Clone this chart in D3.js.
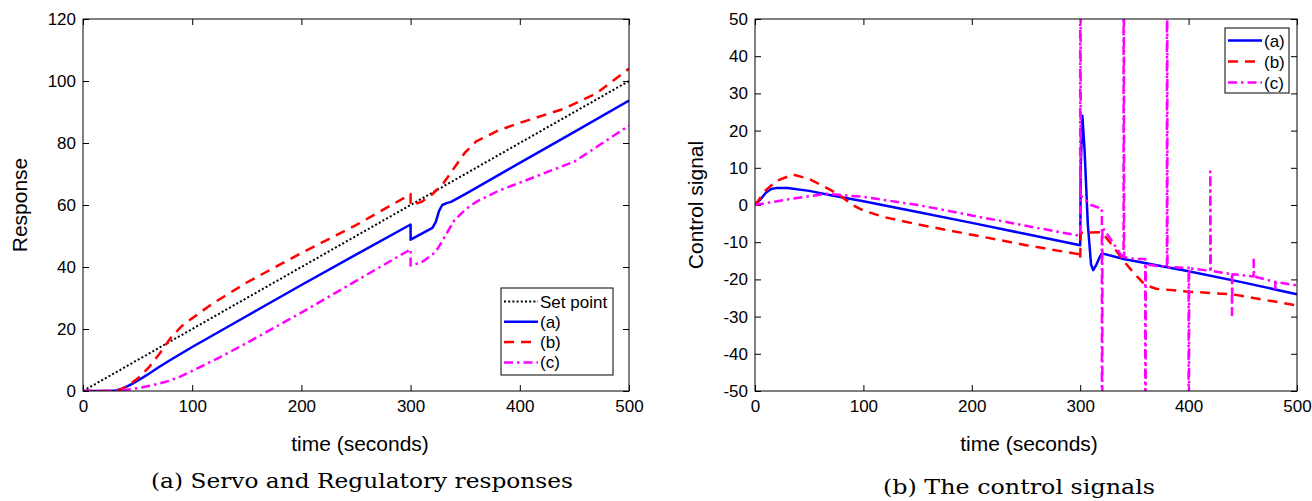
<!DOCTYPE html>
<html>
<head>
<meta charset="utf-8">
<script src="https://cdn.jsdelivr.net/npm/d3@7"></script>
<style>
  body { margin: 0; background: #fff; }
  svg { display: block; }
  .tick text { font-family: "Liberation Sans", Arial, sans-serif; font-size: 17px; fill: #000; }
  .tick line { stroke: #000; stroke-width: 1; }
  .lbl { font-family: "Liberation Sans", Arial, sans-serif; font-size: 21px; fill: #000; }
  .cap { font-family: "DejaVu Serif", "Liberation Serif", serif; font-size: 21px; fill: #000; }
  .leg text { font-family: "Liberation Sans", Arial, sans-serif; font-size: 17px; fill: #000; }
</style>
</head>
<body>
<svg width="1312" height="501"></svg>
<script>
// ---- data: [time, value] ----
const timeTicks = [0, 100, 200, 300, 400, 500];
const responseTicks = [0, 20, 40, 60, 80, 100, 120];
const controlTicks = [50, 40, 30, 20, 10, 0, -10, -20, -30, -40, -50];

const setPoint = [[0, 0], [500, 100]];

const respA = [[0, 0], [25, 0], [30, 0.2], [35, 0.7], [40, 1.4], [45, 2.3], [50, 3.3], [55, 4.4],
  [60, 5.5], [70, 7.8], [80, 10], [100, 14.2], [150, 24.2], [200, 34.2], [250, 44], [300, 53.7],
  [300, 48.8], [320, 52.6], [323, 54.5], [326, 58], [329, 60], [333, 60.6], [337, 61], [350, 63.5],
  [400, 73.6], [450, 83.6], [500, 93.7]];

const respB = [[0, 0], [30, 0], [35, 0.5], [40, 1.5], [50, 4], [60, 7.5], [70, 12], [80, 17],
  [90, 20.8], [100, 23.5], [120, 28.5], [150, 35], [200, 44.5], [250, 53.5], [300, 63.5],
  [300, 60], [310, 61], [320, 63.5], [330, 67], [340, 72], [350, 77], [360, 80.5], [380, 84],
  [400, 86.5], [440, 91], [470, 96], [500, 104]];

const respC = [[0, 0], [20, 0], [30, 0.1], [40, 0.4], [50, 0.9], [60, 1.6], [70, 2.4], [80, 3.4],
  [90, 4.8], [100, 6.5], [125, 10.8], [150, 15.5], [200, 25.3], [250, 35.5], [300, 45.7],
  [300, 40.5], [310, 41.5], [320, 44], [325, 46], [330, 49], [340, 55], [350, 58.5], [360, 61],
  [380, 64.5], [400, 67.2], [450, 74], [500, 85.6]];

const ctrlA = [[0, 0], [5, 1.5], [10, 3.3], [15, 4.3], [20, 4.6], [30, 4.6], [50, 3.8], [70, 2.6],
  [100, 1], [150, -1.9], [200, -4.8], [250, -7.8], [300, -10.8], [300.5, 10], [302, 24], [304, 15],
  [307, -5], [310, -16], [312, -17.5], [315, -16], [318, -14], [320, -13], [340, -14.5],
  [400, -17.8], [450, -20.8], [500, -24]];

const ctrlB = [[0, 0], [10, 4], [20, 6.5], [35, 8.2], [50, 7], [60, 5.5], [70, 4], [80, 2.2],
  [90, 0], [100, -1.5], [120, -3.3], [150, -5.2], [200, -8], [250, -10.8], [300, -13.3],
  [300, -14.5], [300.5, -7.5], [320, -7.3], [330, -11], [340, -15], [350, -18.5], [360, -21.5],
  [370, -22.5], [400, -23.3], [440, -24], [460, -25], [500, -27]];

const ctrlC = [[0, 0], [30, 1.5], [65, 3], [100, 2.2], [150, 0], [200, -2.8], [250, -5.6],
  [300, -8.3], [300, 200], [300.5, 2.5], [310, 0], [320, -1], [320, -200], [320.5, -6],
  [330, -10], [340, -14.5], [340, 200], [340.5, -14], [350, -14.5], [360, -14.5], [360, -200],
  [360.5, -16], [380, -16.7], [380, 200], [380.5, -16.7], [400, -16.9], [400, -200], [400.5, -17],
  [420, -17.7], [420, 9], [420.5, -17.7], [440, -18.6], [440, -29.6], [440.5, -18.6],
  [460, -19.2], [460, -14.7], [460.5, -19.2], [480, -20.7], [480, -22.5], [480.5, -20.7],
  [500, -21.6]];

const leftSeries = [
  { name: "Set point", values: setPoint, color: "#000", dash: "2,2.2", width: 2 },
  { name: "(a)", values: respA, color: "#0000ff", dash: null, width: 2.5 },
  { name: "(b)", values: respB, color: "#ff0000", dash: "10,7", width: 2.5 },
  { name: "(c)", values: respC, color: "#ff00ff", dash: "9,4,2.5,4", width: 2.5 }
];
const rightSeries = [
  { name: "(a)", values: ctrlA, color: "#0000ff", dash: null, width: 2.5 },
  { name: "(b)", values: ctrlB, color: "#ff0000", dash: "10,7", width: 2.5 },
  { name: "(c)", values: ctrlC, color: "#ff00ff", dash: "9,4,2.5,4", width: 2.5 }
];

const svg = d3.select("svg");
// plain hyphen for negatives, as in the original figure
const fmt = d => String(d);

function panel(opt) {
  const x = d3.scaleLinear().domain([0, 500]).range([opt.x0, opt.x1]);
  const y = d3.scaleLinear().domain(opt.yDomain).range([391, 19]);
  const g = svg.append("g");

  g.append("clipPath").attr("id", opt.id)
    .append("rect").attr("x", opt.x0).attr("y", 19)
    .attr("width", opt.x1 - opt.x0).attr("height", 372);

  // ticks on all four sides, pointing inwards
  g.append("g").attr("transform", "translate(0,391)")
    .call(d3.axisBottom(x).tickValues(timeTicks).tickSize(-6).tickPadding(9).tickFormat(fmt))
    .call(a => a.select(".domain").remove());
  g.append("g").attr("transform", "translate(0,19)")
    .call(d3.axisTop(x).tickValues(timeTicks).tickSize(-6).tickFormat(""))
    .call(a => a.select(".domain").remove());
  g.append("g").attr("transform", `translate(${opt.x0},0)`)
    .call(d3.axisLeft(y).tickValues(opt.yTicks).tickSize(-6).tickPadding(7).tickFormat(fmt))
    .call(a => a.select(".domain").remove());
  g.append("g").attr("transform", `translate(${opt.x1},0)`)
    .call(d3.axisRight(y).tickValues(opt.yTicks).tickSize(-6).tickFormat(""))
    .call(a => a.select(".domain").remove());

  const line = d3.line().x(d => x(d[0])).y(d => y(d[1]));
  g.append("g").attr("clip-path", `url(#${opt.id})`)
    .selectAll("path").data(opt.series).join("path")
    .attr("d", d => line(d.values))
    .attr("fill", "none")
    .attr("stroke", d => d.color)
    .attr("stroke-width", d => d.width)
    .attr("stroke-dasharray", d => d.dash)
    .attr("stroke-linejoin", "round");

  g.append("rect").attr("x", opt.x0).attr("y", 19)
    .attr("width", opt.x1 - opt.x0).attr("height", 372)
    .attr("fill", "none").attr("stroke", "#000").attr("stroke-width", 1);

  // axis labels
  g.append("text").attr("class", "lbl")
    .attr("x", opt.xLabelX).attr("y", 451).attr("text-anchor", "middle")
    .text("time (seconds)");
  g.append("text").attr("class", "lbl")
    .attr("transform", `translate(${opt.yLabelX},205) rotate(-90)`)
    .attr("text-anchor", "middle").text(opt.yLabel);

  // legend
  const L = opt.legend;
  const leg = g.append("g").attr("class", "leg");
  leg.append("rect").attr("x", L.x).attr("y", L.y).attr("width", L.w).attr("height", L.h)
    .attr("fill", "#fff").attr("stroke", "#000").attr("stroke-width", 1);
  opt.series.forEach((s, i) => {
    const cy = L.y + L.first + i * L.step;
    leg.append("line").attr("x1", L.x + 3).attr("x2", L.x + 37).attr("y1", cy).attr("y2", cy)
      .attr("stroke", s.color).attr("stroke-width", s.width).attr("stroke-dasharray", s.dash);
    leg.append("text").attr("x", L.x + 39).attr("y", cy + 6).text(s.name);
  });

  // caption
  g.append("text").attr("class", "cap")
    .attr("x", opt.cap.x).attr("y", opt.cap.y).attr("text-anchor", "middle")
    .attr("textLength", opt.cap.w).attr("lengthAdjust", "spacingAndGlyphs")
    .text(opt.cap.text);
}

panel({
  id: "clipA", x0: 83, x1: 629, yDomain: [0, 120], yTicks: responseTicks,
  series: leftSeries, xLabelX: 360, yLabelX: 27, yLabel: "Response",
  legend: { x: 501, y: 288, w: 112, h: 87, first: 13.5, step: 20.3 },
  cap: { x: 362, y: 488, w: 422, text: "(a) Servo and Regulatory responses" }
});

panel({
  id: "clipB", x0: 755, x1: 1297, yDomain: [-50, 50], yTicks: controlTicks,
  series: rightSeries, xLabelX: 1029, yLabelX: 703, yLabel: "Control signal",
  legend: { x: 1225, y: 28, w: 64, h: 65, first: 12.5, step: 21 },
  cap: { x: 1019, y: 494, w: 272, text: "(b) The control signals" }
});
</script>
</body>
</html>
